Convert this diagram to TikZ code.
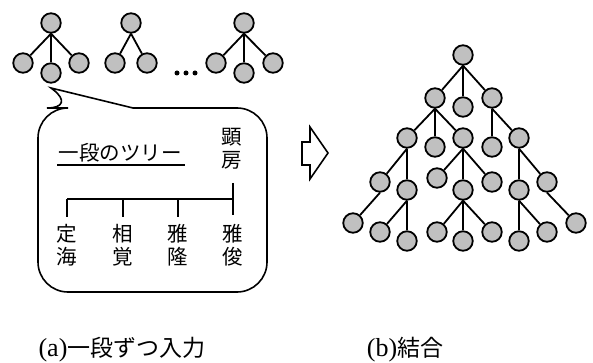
\documentclass[tikz,border=0pt]{standalone}
\usepackage{fontspec}
\setmainfont{Liberation Serif}
\newfontfamily\cjk{Noto Sans CJK JP}
\definecolor{treegray}{RGB}{192,192,192}
\begin{document}
\begin{tikzpicture}[x=1pt,y=-1pt,
  tn/.style={circle,draw,fill=treegray,minimum size=19.5pt,inner sep=0pt,line width=1.8pt},
  ed/.style={line width=1.8pt},
  thin line/.style={line width=1.6pt},
  jtext/.style={font=\cjk\fontsize{20.5}{23.5}\selectfont,align=center,inner sep=0pt},
  captext/.style={font=\fontsize{26}{28}\selectfont,inner sep=0pt},
  capj/.style={font=\cjk\fontsize{23}{26}\selectfont}]
\useasboundingbox (0,0) rectangle (593,363);

% ---- small trees ----
\node[tn] (r1) at (51,23) {};
\node[tn] (c11) at (23,63) {};
\node[tn] (c12) at (51,73) {};
\node[tn] (c13) at (79,63) {};
\draw[ed] (r1.south) -- (c11);
\draw[ed] (r1.south) -- (c12);
\draw[ed] (r1.south) -- (c13);

\node[tn] (r2) at (131,23) {};
\node[tn] (c21) at (115,63) {};
\node[tn] (c22) at (147,63) {};
\draw[ed] (r2.south) -- (c21);
\draw[ed] (r2.south) -- (c22);

\node[tn] (r3) at (244,23) {};
\node[tn] (c31) at (216,63) {};
\node[tn] (c32) at (244,73) {};
\node[tn] (c33) at (273,63) {};
\draw[ed] (r3.south) -- (c31);
\draw[ed] (r3.south) -- (c32);
\draw[ed] (r3.south) -- (c33);

\fill (177,73) circle (2.5);
\fill (186,73) circle (2.5);
\fill (195,73) circle (2.5);

% ---- speech bubble ----
\draw[thin line,rounded corners=30pt,line join=miter]
  (133,108) -- (267,108) -- (267,292) -- (38,292) -- (38,108) -- (77,108)
  [sharp corners] -- (51,88) -- (133,108);

\node[jtext] (title) at (120,153) {一段のツリー};
\coordinate (ulA) at (57,165);
\coordinate (ulB) at (185,165);
\draw[line width=2pt] (ulA) -- (ulB);

\node[jtext] (p) at (232,149) {顕\\房};
\coordinate (pTop) at (233,183);
\coordinate (h1) at (67,199);
\coordinate (h2) at (123,199);
\coordinate (h3) at (178,199);
\coordinate (h4) at (233,199);
\coordinate (v1) at (67,217);
\coordinate (v2) at (123,217);
\coordinate (v3) at (178,217);
\coordinate (v4) at (233,215);
\draw[thin line] (h1) -- (h4);
\draw[thin line] (pTop) -- (v4);
\draw[thin line] (h1) -- (v1);
\draw[thin line] (h2) -- (v2);
\draw[thin line] (h3) -- (v3);

\node[jtext] (k1) at (67,245) {定\\海};
\node[jtext] (k2) at (123,245) {相\\覚};
\node[jtext] (k3) at (178,245) {雅\\隆};
\node[jtext] (k4) at (233,245) {雅\\俊};

% ---- block arrow ----
\draw[thin line,line join=miter] (302,142) -- (310,142) -- (310,127) -- (328,153)
  -- (310,179) -- (310,165) -- (302,165) -- cycle;

% ---- big tree ----
\node[tn] (R) at (463,55) {};
\node[tn] (A) at (435,98) {};
\node[tn] (B) at (463,107) {};
\node[tn] (C) at (492,98) {};
\node[tn] (A1) at (407,138) {};
\node[tn] (A2) at (435,147) {};
\node[tn] (A3) at (463,138) {};
\node[tn] (C1) at (492,147) {};
\node[tn] (C2) at (519,138) {};
\node[tn] (A1a) at (380,182) {};
\node[tn] (A1b) at (407,190) {};
\node[tn] (A3a) at (437,178) {};
\node[tn] (A3b) at (463,190) {};
\node[tn] (A3c) at (492,182) {};
\node[tn] (C2a) at (519,190) {};
\node[tn] (C2b) at (547,182) {};
\node[tn] (L1) at (353,223) {};
\node[tn] (L2) at (380,232) {};
\node[tn] (L3) at (407,241) {};
\node[tn] (L4) at (437,232) {};
\node[tn] (L5) at (463,241) {};
\node[tn] (L6) at (492,232) {};
\node[tn] (L7) at (519,241) {};
\node[tn] (L8) at (547,232) {};
\node[tn] (L9) at (576,223) {};

\foreach \p/\c in {R/A,R/B,R/C,A/A1,A/A2,A/A3,C/C1,C/C2,
  A1/A1a,A1/A1b,A3/A3a,A3/A3b,A3/A3c,C2/C2a,C2/C2b,
  A1a/L1,A1b/L2,A1b/L3,A3b/L4,A3b/L5,A3b/L6,C2a/L7,C2a/L8,C2b/L9}
  \draw[ed] (\p.south) -- (\c);

% ---- captions ----
\node[captext] (capa) at (122,350) {(a){\cjk\fontsize{23}{26}\selectfont 一段ずつ入力}};
\node[captext] (capb) at (405,350) {(b){\cjk\fontsize{23}{26}\selectfont 結合}};
\end{tikzpicture}
\end{document}
